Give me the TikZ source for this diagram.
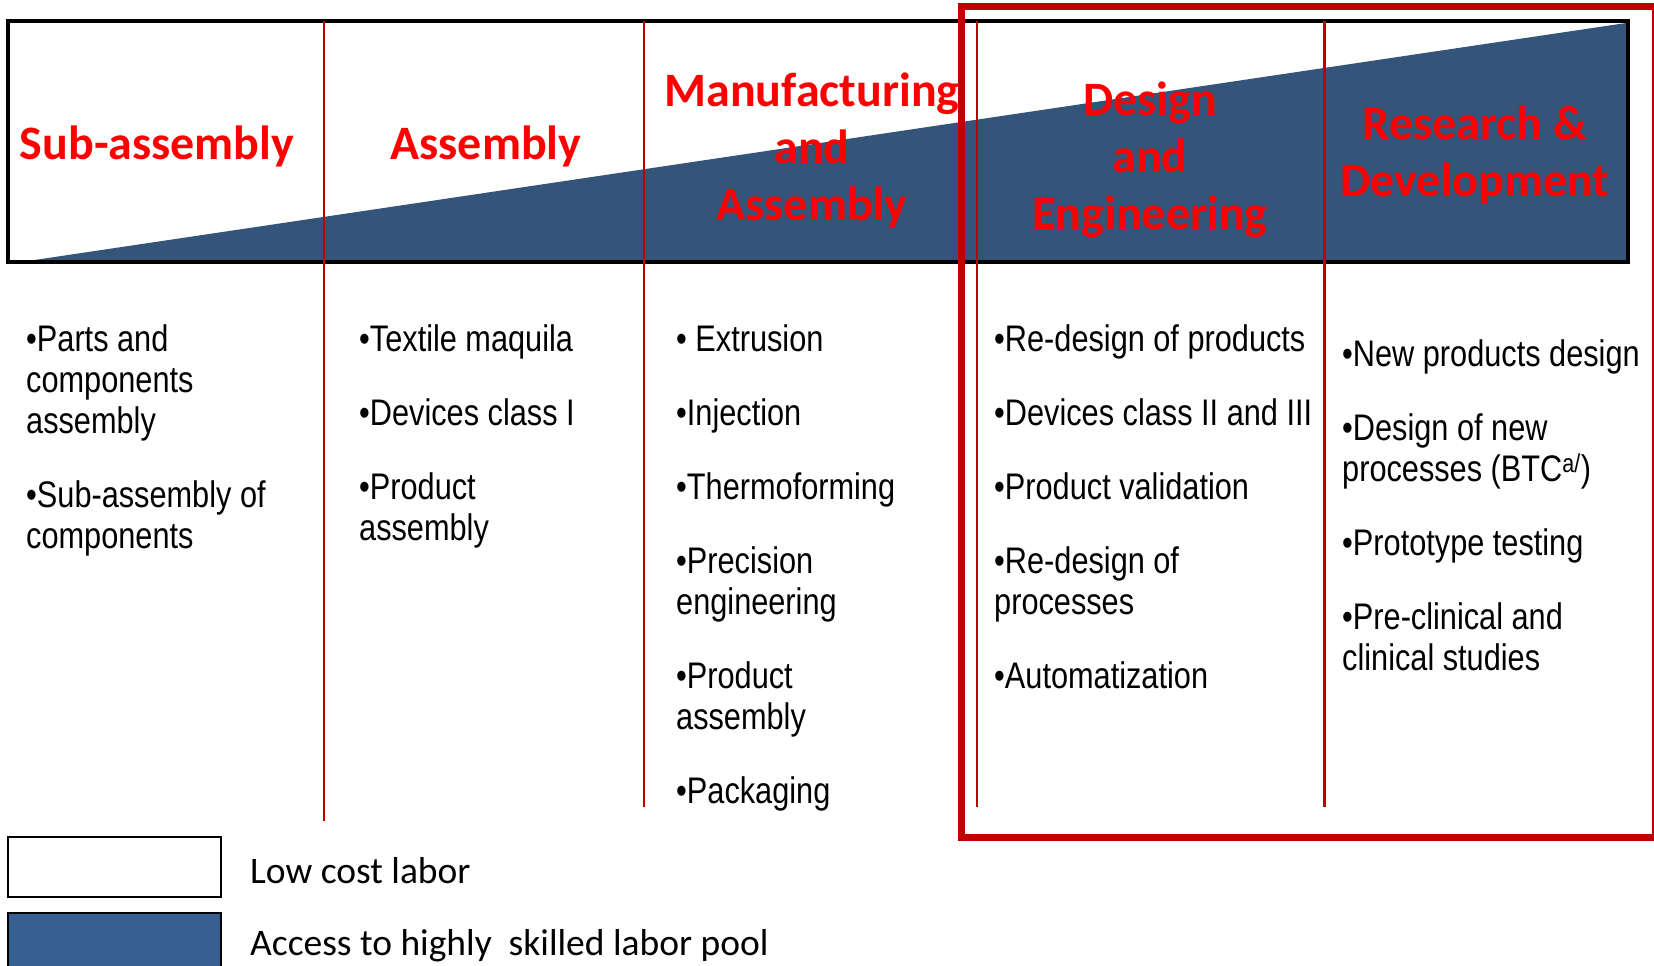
\documentclass[tikz,border=0pt]{standalone}
\usepackage{fontspec}
\setmainfont{Carlito}
\newfontfamily\narrowfont{Liberation Sans}[FakeStretch=0.83]
\definecolor{wedgeblue}{RGB}{53,84,121}
\definecolor{keyblue}{RGB}{54,96,146}
\definecolor{darkred}{RGB}{192,0,0}

\begin{document}
\begin{tikzpicture}[x=1pt, y=-1pt,
        head/.style={align=center, inner sep=0, text=red, font=\fontsize{48}{57}\selectfont\bfseries},
        col/.style={anchor=north west, align=left, inner sep=0, font=\narrowfont\fontsize{37}{41}\selectfont},
        key/.style={anchor=west, inner sep=0, font=\fontsize{37.5}{42}\selectfont},
        sep/.style={darkred, line width=1.5pt}]
    \useasboundingbox (0,0) rectangle (1654,966);

    % Wedge and frame
    \fill[wedgeblue] (21,262) -- (1626,23) -- (1626,262) -- cycle;
    \draw[line width=4.5pt] (8,21) rectangle (1628,262);

    % Separators
    \draw[sep] (324,21) -- (324,821);
    \draw[sep] (644,21) -- (644,807);
    \draw[sep, line width=2pt] (977,21) -- (977,807);
    \draw[sep, line width=3pt] (1324,21) -- (1324,807);
    \draw[darkred, line width=7pt] (961,7) rectangle (1655,837);

    % Headers
    \node[head] at (157,146) (sub) {Sub-assembly};
    \node[head] at (486,146) (asm) {Assembly};
    \node[head] at (812,150) (man) {Manufacturing\\and\\Assembly};
    \node[head] at (1150,160) (des) {Design\\and\\Engineering};
    \node[head] at (1475,155) (rnd) {Research \&\\Development};

    % Columns
    \node[col] at (26,323) (c1) {\strut•Parts and\\components\\assembly\\[33pt]
        •Sub-assembly of\\components};
    \node[col] at (359,323) (c2) {\strut•Textile maquila\\[33pt]•Devices class I\\[33pt]
        •Product\\assembly};
    \node[col] at (676,323) (c3) {\strut• Extrusion\\[33pt]•Injection\\[33pt]•Thermoforming\\[33pt]
        •Precision\\engineering\\[33pt]•Product\\assembly\\[33pt]•Packaging};
    \node[col] at (994,323) (c4) {\strut•Re-design of products\\[33pt]•Devices class II and III\\[33pt]
        •Product validation\\[33pt]•Re-design of\\processes\\[33pt]•Automatization};
    \node[col] at (1342,338) (c5) {\strut•New products design\\[33pt]•Design of new\\
        processes (BTC\textsuperscript{a/})\\[33pt]•Prototype testing\\[33pt]
        •Pre-clinical and\\clinical studies};

    % Legend
    \draw[line width=1.5pt] (8,837) rectangle (221,897);
    \draw[fill=keyblue, line width=1.5pt] (8,913) rectangle (221,980);
    \node[key] at (250,871) (low) {Low cost labor};
    \node[key] at (250,946) (high) {Access to highly\ \ skilled labor pool};
\end{tikzpicture}
\end{document}
